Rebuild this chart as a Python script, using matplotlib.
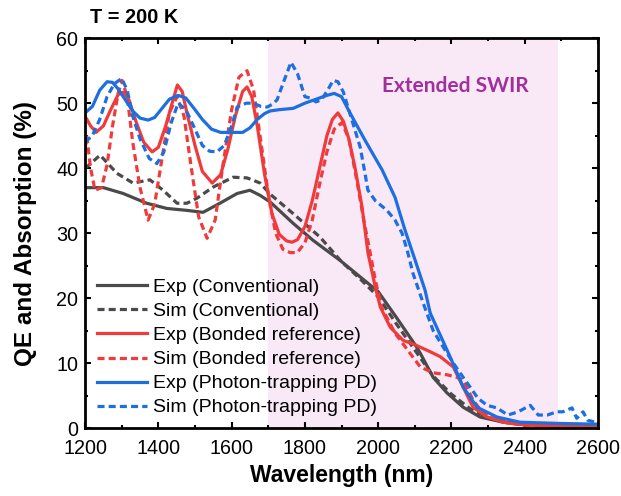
"""QE / absorption spectra at T = 200 K for three photodiode designs."""

import matplotlib

matplotlib.use("Agg")
import matplotlib.pyplot as plt
from matplotlib.ticker import MultipleLocator

# --- data -------------------------------------------------------------------
exp_conv_wl = [1200, 1205, 1250, 1304, 1368, 1423, 1478, 1522, 1568, 1615, 1650,
               1678, 1705, 1768, 1822, 1896, 1950, 2000, 2050, 2101, 2115, 2150,
               2188, 2232, 2278, 2341, 2400, 2500, 2600]
exp_conv = [37, 37, 37, 36.1, 34.6, 33.8, 33.5, 33.2, 34.6, 36.1, 36.6,
            35.8, 34.8, 31.5, 28.9, 25.8, 23.3, 21, 17, 12.8, 11.5, 7.8,
            5.4, 3.2, 1.7, 0.9, 0.5, 0.4, 0.3]

sim_conv_wl = [1200, 1205, 1241, 1287, 1331, 1377, 1413, 1451, 1478, 1506, 1550,
               1604, 1642, 1678, 1705, 1768, 1841, 1900, 1950, 2000, 2050, 2100,
               2150, 2200, 2250, 2300, 2400, 2500, 2600]
sim_conv = [40, 40.2, 42, 39.2, 37.7, 38.2, 36.6, 34.6, 34.6, 35.4, 37.1,
            38.6, 38.5, 37.7, 36, 33, 29.4, 25.6, 23, 20.2, 16, 12,
            8, 5.2, 3, 1.6, 0.6, 0.4, 0.3]

exp_bond_wl = [1200, 1215, 1230, 1250, 1270, 1290, 1305, 1320, 1340, 1360, 1383,
               1400, 1420, 1440, 1452, 1465, 1480, 1500, 1520, 1547, 1570, 1590,
               1610, 1630, 1642, 1655, 1670, 1690, 1710, 1730, 1750, 1765, 1780,
               1800, 1820, 1840, 1860, 1875, 1890, 1905, 1920, 1937, 1956, 1972,
               1992, 2006, 2033, 2068, 2101, 2140, 2169, 2205, 2232, 2259, 2297,
               2351, 2400, 2500, 2600]
exp_bond = [48, 46.5, 45.5, 46.5, 49, 51.3, 51.7, 50.5, 47, 44, 42.5,
            43.2, 46.5, 50.5, 52.8, 51.8, 48, 43.5, 39.5, 37.7, 39, 43,
            48, 51.8, 52.5, 51, 46.5, 39, 33, 29.8, 28.8, 28.6, 29,
            31, 35, 40, 45, 47.5, 48.5, 47.2, 44.5, 40, 34, 27,
            21.7, 18.6, 15.5, 13.5, 12.8, 11.8, 11, 9.4, 6.3, 3.2, 1.7,
            0.8, 0.5, 0.3, 0.3]

sim_bond_wl = [1200, 1205, 1215, 1227, 1245, 1260, 1275, 1290, 1301, 1315, 1330,
               1350, 1372, 1390, 1410, 1430, 1451, 1470, 1490, 1510, 1533, 1555,
               1575, 1600, 1620, 1642, 1660, 1680, 1700, 1720, 1740, 1760, 1779,
               1800, 1820, 1840, 1860, 1880, 1901, 1920, 1942, 1959, 1978, 1992,
               2010, 2046, 2087, 2115, 2150, 2188, 2215, 2232, 2259, 2286, 2333,
               2400, 2500, 2600]
sim_bond = [43, 44.8, 40, 36.6, 37, 40.5, 46.5, 51.5, 53.5, 51, 44,
            37, 32, 34.5, 41.5, 48.5, 51, 48, 40, 32.5, 29.2, 32,
            40, 49, 54, 55, 52, 44, 36, 30, 27.5, 27, 27,
            28.5, 32, 37.5, 42.5, 46, 47, 44.5, 38, 32.5, 27, 22.8,
            18.5, 14.6, 11.5, 9.4, 8.5, 8.2, 7.8, 7.4, 4.3, 2.3, 1,
            0.4, 0.3, 0.3]

exp_pt_wl = [1200, 1220, 1240, 1260, 1275, 1290, 1310, 1330, 1350, 1372, 1390,
             1410, 1430, 1454, 1475, 1500, 1520, 1545, 1570, 1600, 1630, 1650,
             1670, 1690, 1705, 1730, 1768, 1800, 1830, 1860, 1880, 1900, 1923,
             1964, 2011, 2046, 2073, 2101, 2128, 2142, 2196, 2232, 2270, 2324,
             2387, 2500, 2600]
exp_pt = [48.5, 49.5, 52, 53.3, 53.2, 52.2, 50.5, 48.8, 47.7, 47.4, 47.8,
          49.2, 50.6, 51.2, 50.8, 49, 47.5, 46, 45.5, 45.5, 45.5, 46.2,
          47.5, 48.4, 48.8, 49, 49.2, 50, 50.6, 51.2, 51.5, 51, 48.5,
          44.3, 39.7, 35.5, 30.5, 25.8, 21.2, 17.7, 11, 6.3, 3.2, 1.7,
          0.9, 0.7, 0.6]

sim_pt_wl = [1200, 1220, 1240, 1260, 1280, 1300, 1315, 1330, 1350, 1375, 1396,
             1415, 1435, 1454, 1475, 1500, 1520, 1540, 1560, 1580, 1600, 1615,
             1640, 1659, 1680, 1697, 1710, 1724, 1740, 1762, 1780, 1800, 1814,
             1830, 1845, 1862, 1877, 1890, 1905, 1925, 1951, 1964, 1972, 1992,
             2024, 2046, 2065, 2079, 2095, 2109, 2123, 2150, 2177, 2205, 2232,
             2251, 2272, 2297, 2324, 2354, 2382, 2415, 2437, 2461, 2488, 2504,
             2529, 2542, 2559, 2572, 2600]
sim_pt = [44, 45, 47.5, 51, 53, 53.8, 52, 48, 44.5, 41.5, 40.7,
          42.5, 47, 50, 49, 46, 43.5, 42.6, 42.5, 43.5, 46.5, 49.4,
          50, 50, 49.5, 49.4, 49.8, 50.5, 53, 56.3, 54.5, 51, 50.8,
          50.2, 50.5, 52, 53.5, 53.3, 51.7, 48, 43.2, 39.2, 36.6, 35,
          33.5, 32, 30, 27.4, 23.8, 21.5, 19.2, 15, 12.5, 10, 7.8,
          6.3, 4.6, 3.5, 3.1, 2, 2.5, 3.5, 2, 2, 2.5, 2.5,
          3.1, 1.5, 2.5, 1.2, 0.8]

ext_swir = (1700, 2490)

GRAY = "#4a4a4a"
RED = "#ef3b3b"
BLUE = "#1c6fe0"

plt.rcParams["font.family"] = ["Liberation Sans", "DejaVu Sans"]

fig = plt.figure(figsize=(6.21, 4.96), dpi=100)
ax = fig.add_axes([0.137, 0.137, 0.826, 0.786])

ax.axvspan(*ext_swir, color="#f9e9f7", lw=0, zorder=0)

lw = 2.3
dash = (0, (2.2, 1.3))
ax.plot(exp_conv_wl, exp_conv, color=GRAY, lw=lw, label="Exp (Conventional)")
ax.plot(sim_conv_wl, sim_conv, color=GRAY, lw=lw, ls=dash, label="Sim (Conventional)")
ax.plot(exp_bond_wl, exp_bond, color=RED, lw=lw, label="Exp (Bonded reference)")
ax.plot(sim_bond_wl, sim_bond, color=RED, lw=lw, ls=dash, label="Sim (Bonded reference)")
ax.plot(exp_pt_wl, exp_pt, color=BLUE, lw=lw, label="Exp (Photon-trapping PD)")
ax.plot(sim_pt_wl, sim_pt, color=BLUE, lw=lw, ls=dash, label="Sim (Photon-trapping PD)")

ax.set_xlim(1200, 2600)
ax.set_ylim(0, 60)
ax.xaxis.set_major_locator(MultipleLocator(200))
ax.xaxis.set_minor_locator(MultipleLocator(100))
ax.yaxis.set_major_locator(MultipleLocator(10))
ax.yaxis.set_minor_locator(MultipleLocator(5))
ax.tick_params(which="both", direction="in", top=True, right=True,
               labelsize=14.2, width=1.5)
ax.tick_params(which="major", length=4)
ax.tick_params(which="minor", length=2.2)
ax.tick_params(axis="x", pad=8)
ax.tick_params(axis="y", pad=5)
for s in ax.spines.values():
    s.set_linewidth(2.0)

ax.set_xlabel("Wavelength (nm)", fontsize=16.5, fontweight="bold", labelpad=4)
ax.set_ylabel("QE and Absorption (%)", fontsize=17.5, fontweight="bold", labelpad=14)

ax.text(2212, 52.6, "Extended SWIR", color="#a1309c", fontsize=15,
        fontweight="bold", family=["Lato", "DejaVu Sans"], ha="center", va="center")
fig.text(0.145, 0.964, "T = 200 K", fontsize=14.3, fontweight="bold",
         ha="left", va="center")

leg = ax.legend(loc="lower left", bbox_to_anchor=(0.0, 0.0), frameon=False,
                fontsize=14, handlelength=2.6, handletextpad=0.3,
                labelspacing=0.33, borderaxespad=0.2)

fig.savefig("out.png", dpi=100)
